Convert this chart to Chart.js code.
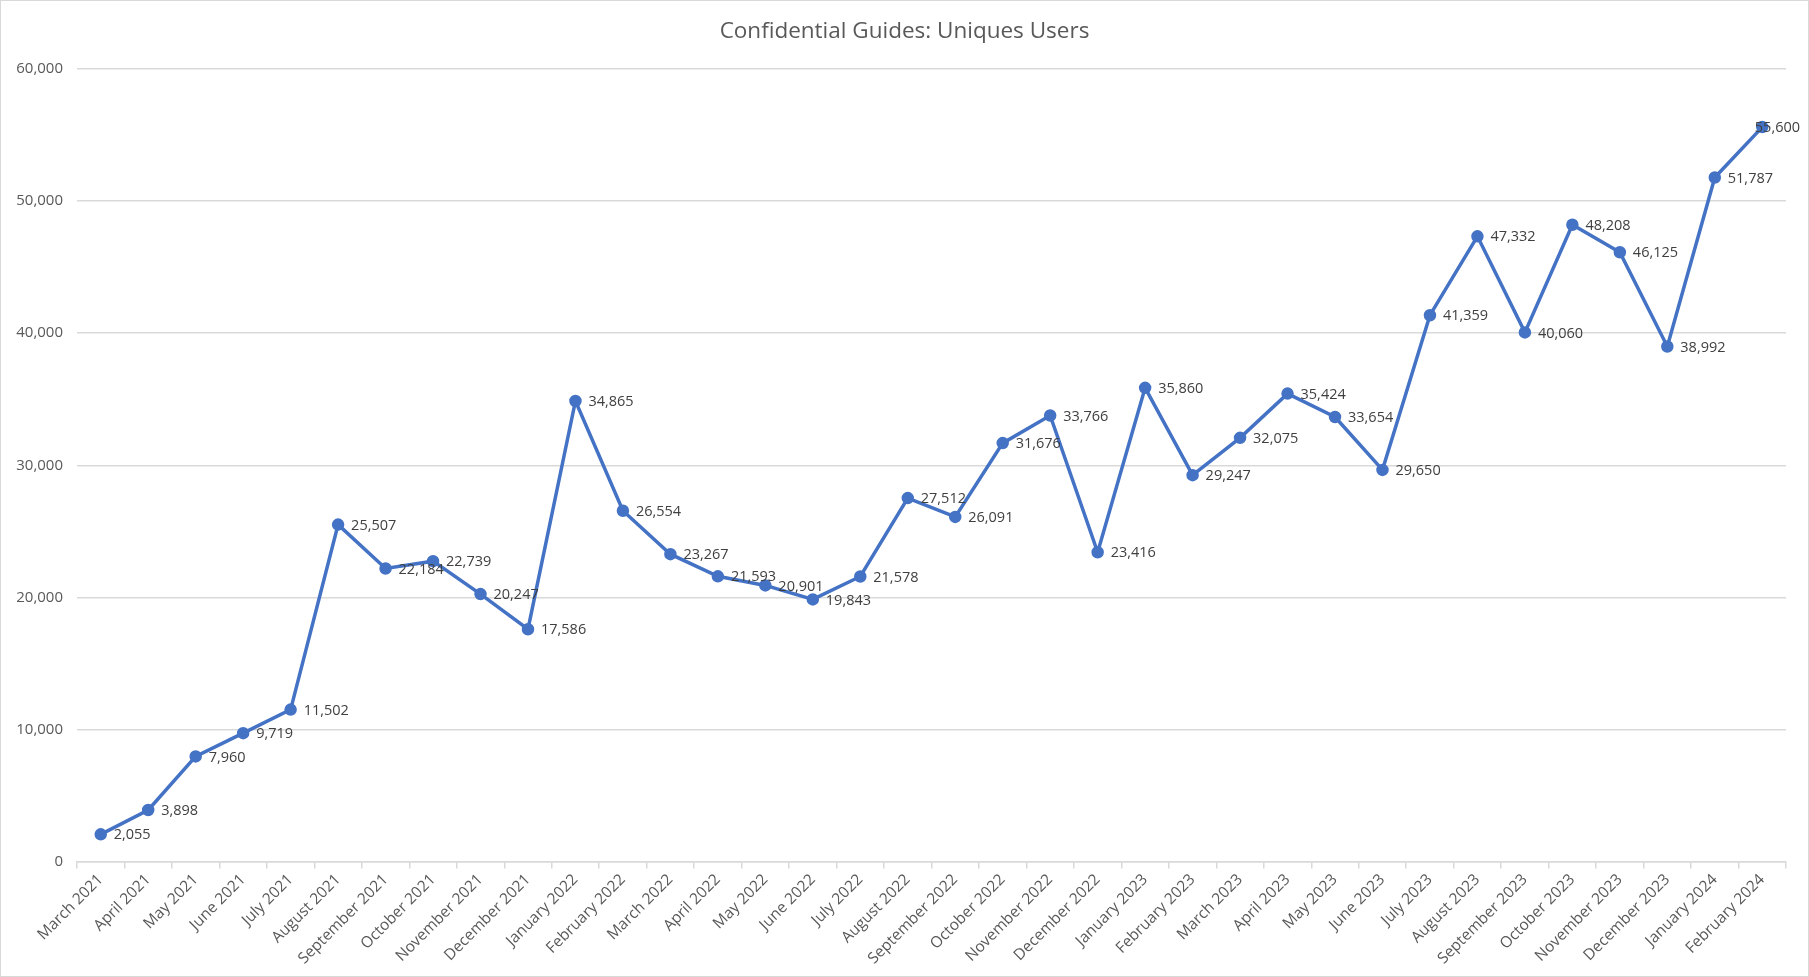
<!DOCTYPE html>
<html>
<head>
<meta charset="utf-8">
<script src="https://cdn.jsdelivr.net/npm/chart.js@4/dist/chart.umd.min.js"></script>
<style>
  html, body { margin: 0; padding: 0; background: #fff; }
  #wrap { width: 1807px; height: 975px; border: 1px solid #d9d9d9; position: relative; }
</style>
</head>
<body>
<div id="wrap"><canvas id="users"></canvas></div>
<script>
const months = [
  "March 2021", "April 2021", "May 2021", "June 2021", "July 2021", "August 2021",
  "September 2021", "October 2021", "November 2021", "December 2021", "January 2022",
  "February 2022", "March 2022", "April 2022", "May 2022", "June 2022", "July 2022",
  "August 2022", "September 2022", "October 2022", "November 2022", "December 2022",
  "January 2023", "February 2023", "March 2023", "April 2023", "May 2023", "June 2023",
  "July 2023", "August 2023", "September 2023", "October 2023", "November 2023",
  "December 2023", "January 2024", "February 2024"
];

const uniqueUsers = [
  2055, 3898, 7960, 9719, 11502, 25507, 22184, 22739, 20247, 17586, 34865,
  26554, 23267, 21593, 20901, 19843, 21578, 27512, 26091, 31676, 33766, 23416,
  35860, 29247, 32075, 35424, 33654, 29650, 41359, 47332, 40060, 48208, 46125,
  38992, 51787, 55600
];

const yTicks = [0, 10000, 20000, 30000, 40000, 50000, 60000];

const fmt = (v) => v.toLocaleString("en-US");

// draws the value next to each point (no datalabels plugin available)
const pointLabels = {
  id: "pointLabels",
  afterDatasetsDraw(chart) {
    const ctx = chart.ctx;
    const meta = chart.getDatasetMeta(0);
    ctx.save();
    ctx.font = "14.5px 'Open Sans'";
    ctx.fillStyle = "#404040";
    ctx.textAlign = "left";
    ctx.textBaseline = "middle";
    meta.data.forEach((pt, i) => {
      const txt = fmt(uniqueUsers[i]);
      let x = pt.x + 13;
      const w = ctx.measureText(txt).width;
      if (x + w > chart.width - 8) x = chart.width - 8 - w; // keep inside like Excel does
      ctx.fillText(txt, x, pt.y + 1);
    });
    ctx.restore();
  },
};

const ctx = document.getElementById("users").getContext("2d");

new Chart(ctx, {
  type: "line",
  data: {
    labels: months,
    datasets: [
      {
        label: "Unique Users",
        data: uniqueUsers,
        borderColor: "#4472c4",
        backgroundColor: "#4472c4",
        borderWidth: 3.5,
        pointRadius: 4.5,
        pointHoverRadius: 4.5,
        tension: 0,
      },
    ],
  },
  plugins: [pointLabels],
  options: {
    responsive: true,
    maintainAspectRatio: false,
    animation: false,
    layout: {
      padding: { left: 12, right: 12, top: 4, bottom: 6 },
    },
    plugins: {
      legend: { display: false },
      tooltip: { enabled: false },
      title: {
        display: true,
        text: "Confidential Guides: Uniques Users",
        color: "#595959",
        font: { family: "'Open Sans'", size: 22.5, weight: "normal" },
        padding: { top: 13, bottom: 24 },
      },
    },
    scales: {
      x: {
        offset: true,
        afterFit: (scale) => {
          // extra room on the right so the last label fits
          scale.paddingRight = 22;
        },
        grid: {
          display: true,
          offset: true,
          drawOnChartArea: false,
          drawTicks: true,
          tickLength: 7,
          color: "#d9d9d9",
          lineWidth: 1.5,
        },
        border: { color: "#d9d9d9", width: 1.5 },
        ticks: {
          autoSkip: false,
          maxRotation: 45,
          minRotation: 45,
          color: "#595959",
          font: { family: "'Open Sans'", size: 15.5 },
          padding: 2,
        },
      },
      y: {
        min: 0,
        max: 60000,
        afterBuildTicks: (axis) => {
          axis.ticks = yTicks.map((v) => ({ value: v }));
        },
        afterFit: (axis) => {
          axis.width = 64;
        },
        grid: {
          color: "#d9d9d9",
          lineWidth: 1.5,
          drawTicks: false,
        },
        border: { display: false },
        ticks: {
          color: "#595959",
          font: { family: "'Open Sans'", size: 15 },
          padding: 14,
          callback: (v) => fmt(v),
        },
      },
    },
  },
});
</script>
</body>
</html>
